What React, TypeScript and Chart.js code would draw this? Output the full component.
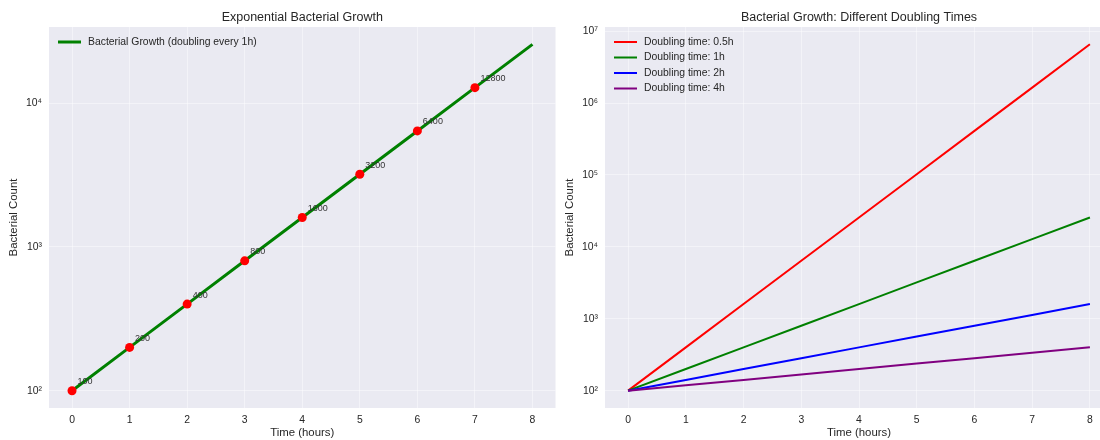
import React, { useEffect, useRef } from 'react';
import { Chart, registerables } from 'chart.js';

Chart.register(...registerables);

// ---- data ----
const hours = [0, 1, 2, 3, 4, 5, 6, 7, 8];
const growth1h = [100, 200, 400, 800, 1600, 3200, 6400, 12800, 25600];
const markerHours = [0, 1, 2, 3, 4, 5, 6, 7];
const markerCounts = [100, 200, 400, 800, 1600, 3200, 6400, 12800];
const markerLabels = ['100', '200', '400', '800', '1600', '3200', '6400', '12800'];
const leftLegendLabel = 'Bacterial Growth (doubling every 1h)';

const xTicks = [0, 1, 2, 3, 4, 5, 6, 7, 8];
const xMin = -0.4;
const xMax = 8.4;

const leftYTicks = [100, 1000, 10000];
const leftYMin = 75.8;
const leftYMax = 33800;

const rightYTicks = [100, 1000, 10000, 100000, 1000000, 10000000];
const rightYMin = 57.4;
const rightYMax = 11400000;

const doublingLabels = ['Doubling time: 0.5h', 'Doubling time: 1h', 'Doubling time: 2h', 'Doubling time: 4h'];
const dt05 = [100, 400, 1600, 6400, 25600, 102400, 409600, 1638400, 6553600];
const dt1 = [100, 200, 400, 800, 1600, 3200, 6400, 12800, 25600];
const dt2 = [100, 141, 200, 283, 400, 566, 800, 1131, 1600];
const dt4 = [100, 119, 141, 168, 200, 238, 283, 336, 400];
const doublingSeries = [dt05, dt1, dt2, dt4];
const seriesColors = ['#FF0000', '#008000', '#0000FF', '#800080'];

const leftTitle = 'Exponential Bacterial Growth';
const rightTitle = 'Bacterial Growth: Different Doubling Times';
const xTitle = 'Time (hours)';
const yTitle = 'Bacterial Count';

// ---- styles ----
const FONT = "'Liberation Sans', Arial, sans-serif";
const TEXT = '#262626';
const BG = '#EAEAF2';
const GRID = 'rgba(255,255,255,0.45)';

const SUP = '⁰¹²³⁴⁵⁶⁷⁸⁹';
const fmtPow = (v: number) => {
  const e = Math.round(Math.log10(v));
  return '10' + String(e).split('').map((d) => SUP[Number(d)]).join('');
};

const bgPlugin = {
  id: 'plotBg',
  beforeDraw(chart: any) {
    const { ctx, chartArea } = chart;
    ctx.save();
    ctx.fillStyle = BG;
    ctx.fillRect(chartArea.left, chartArea.top, chartArea.right - chartArea.left, chartArea.bottom - chartArea.top);
    ctx.restore();
  },
};

function makeTitle(text: string) {
  return {
    id: 'axesTitle',
    afterDraw(chart: any) {
      const { ctx, chartArea } = chart;
      ctx.save();
      ctx.fillStyle = TEXT;
      ctx.font = `12.5px ${FONT}`;
      ctx.textAlign = 'center';
      ctx.textBaseline = 'alphabetic';
      ctx.fillText(text, (chartArea.left + chartArea.right) / 2, chartArea.top - 6.5);
      ctx.restore();
    },
  };
}

function makeLegend(items: { label: string; color: string }[], lw: number) {
  return {
    id: 'customLegend',
    afterDraw(chart: any) {
      const { ctx, chartArea } = chart;
      ctx.save();
      items.forEach((it, i) => {
        const y = chartArea.top + 15 + i * 15.5;
        const x0 = chartArea.left + 9;
        ctx.strokeStyle = it.color;
        ctx.lineWidth = lw;
        ctx.beginPath();
        ctx.moveTo(x0, y);
        ctx.lineTo(x0 + 23, y);
        ctx.stroke();
        ctx.fillStyle = TEXT;
        ctx.font = `10.4px ${FONT}`;
        ctx.textBaseline = 'middle';
        ctx.textAlign = 'left';
        ctx.fillText(it.label, x0 + 30, y);
      });
      ctx.restore();
    },
  };
}

const annotationPlugin = {
  id: 'pointLabels',
  afterDatasetsDraw(chart: any) {
    const { ctx, scales } = chart;
    ctx.save();
    ctx.fillStyle = '#333333';
    ctx.font = `9px ${FONT}`;
    ctx.textBaseline = 'middle';
    ctx.textAlign = 'left';
    markerHours.forEach((h, i) => {
      const x = scales.x.getPixelForValue(h);
      const y = scales.y.getPixelForValue(markerCounts[i]);
      ctx.fillText(markerLabels[i], x + 5.5, y - 9);
    });
    ctx.restore();
  },
};

function xScale() {
  return {
    type: 'linear',
    min: xMin,
    max: xMax,
    afterBuildTicks: (s: any) => {
      s.ticks = xTicks.map((v) => ({ value: v }));
    },
    afterFit: (s: any) => {
      s.height = 32;
    },
    grid: { color: GRID, lineWidth: 1, drawTicks: false },
    border: { display: false },
    ticks: { color: TEXT, font: { family: FONT, size: 10.4 }, padding: 6, callback: (v: any) => String(v) },
    title: { display: true, text: xTitle, color: TEXT, font: { family: FONT, size: 11.4 }, padding: { top: 0, bottom: 0 } },
  };
}

function yScale(ticks: number[], min: number, max: number, width: number, titlePad: number) {
  return {
    type: 'logarithmic',
    min,
    max,
    afterBuildTicks: (s: any) => {
      s.ticks = ticks.map((v) => ({ value: v }));
    },
    afterFit: (s: any) => {
      s.width = width;
    },
    grid: { color: GRID, lineWidth: 1, drawTicks: false },
    border: { display: false },
    ticks: { color: TEXT, font: { family: FONT, size: 10.4 }, padding: 7, callback: (v: any) => fmtPow(Number(v)) },
    title: { display: true, text: yTitle, color: TEXT, font: { family: FONT, size: 11.4 }, padding: { top: titlePad, bottom: 0 } },
  };
}

export default function App() {
  const leftRef = useRef<HTMLCanvasElement>(null);
  const rightRef = useRef<HTMLCanvasElement>(null);

  useEffect(() => {
    const left = new Chart(leftRef.current as HTMLCanvasElement, {
      type: 'line',
      data: {
        datasets: [
          {
            label: 'markers',
            data: markerHours.map((h, i) => ({ x: h, y: markerCounts[i] })),
            showLine: false,
            pointRadius: 4.5,
            pointBackgroundColor: '#FF0000',
            pointBorderColor: '#FF0000',
            pointBorderWidth: 0,
            order: 0,
          },
          {
            label: leftLegendLabel,
            data: hours.map((h, i) => ({ x: h, y: growth1h[i] })),
            borderColor: '#008000',
            borderWidth: 3,
            pointRadius: 0,
            tension: 0,
            order: 1,
          },
        ],
      },
      options: {
        responsive: false,
        animation: false,
        layout: { padding: { left: 0, right: 4, top: 27, bottom: 0 } },
        plugins: {
          legend: { display: false },
          tooltip: { enabled: false },
          title: { display: false },
        },
        scales: {
          x: xScale(),
          y: yScale(leftYTicks, leftYMin, leftYMax, 49, 7),
        },
      } as any,
      plugins: [bgPlugin, annotationPlugin, makeTitle(leftTitle), makeLegend([{ label: leftLegendLabel, color: '#008000' }], 3)],
    });

    const right = new Chart(rightRef.current as HTMLCanvasElement, {
      type: 'line',
      data: {
        datasets: doublingSeries.map((s, k) => ({
          label: doublingLabels[k],
          data: hours.map((h, i) => ({ x: h, y: s[i] })),
          borderColor: seriesColors[k],
          borderWidth: 2,
          pointRadius: 0,
          tension: 0,
          order: 4 - k,
        })),
      },
      options: {
        responsive: false,
        animation: false,
        layout: { padding: { left: 0, right: 0, top: 27, bottom: 0 } },
        plugins: {
          legend: { display: false },
          tooltip: { enabled: false },
          title: { display: false },
        },
        scales: {
          x: xScale(),
          y: yScale(rightYTicks, rightYMin, rightYMax, 45, 3),
        },
      } as any,
      plugins: [bgPlugin, makeTitle(rightTitle), makeLegend(doublingLabels.map((l, k) => ({ label: l, color: seriesColors[k] })), 2)],
    });

    return () => {
      left.destroy();
      right.destroy();
    };
  }, []);

  return (
    <div style={{ position: 'fixed', left: 0, top: 0, width: 1100, height: 440, overflow: 'hidden', background: '#fff' }}>
      <canvas ref={leftRef} width={560} height={440} style={{ position: 'absolute', left: 0, top: 0, display: 'block' }} />
      <canvas ref={rightRef} width={553} height={440} style={{ position: 'absolute', left: 560, top: 0, display: 'block' }} />
    </div>
  );
}
